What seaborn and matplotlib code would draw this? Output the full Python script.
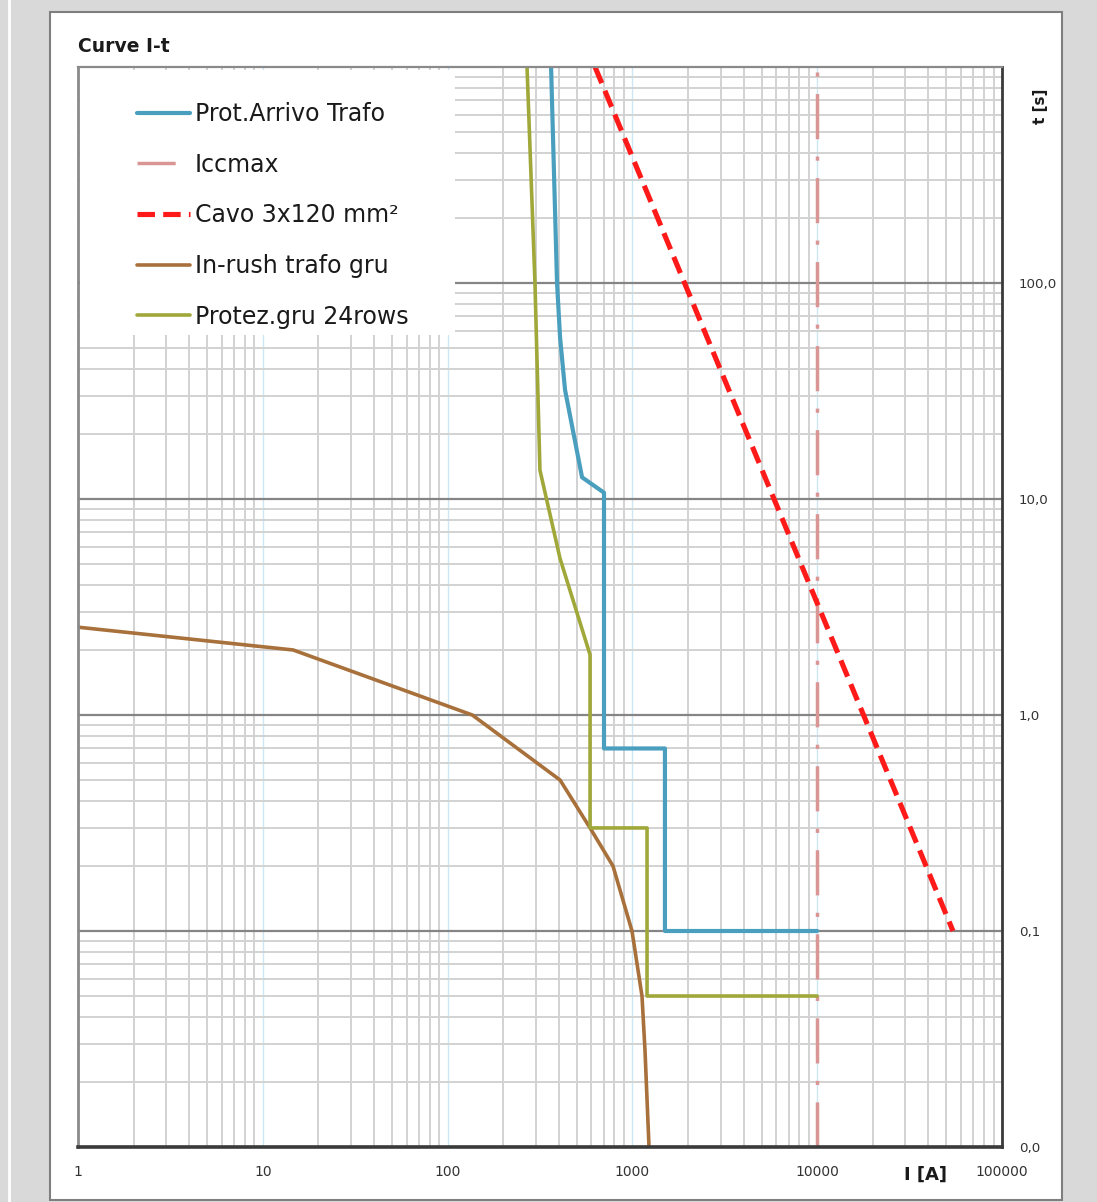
import numpy as np
import pandas as pd
import matplotlib
matplotlib.use("Agg")
import matplotlib.pyplot as plt
from matplotlib.patches import Rectangle
from matplotlib.lines import Line2D
from matplotlib.ticker import LogLocator, NullFormatter
import seaborn as sns

# ---------------- data ----------------
title = "Curve I-t"
x_label = "I [A]"
y_label = "t [s]"

prot_arrivo_I = [363, 391, 406, 432, 534, 702, 702, 1500, 1500, 10000]
prot_arrivo_t = [1000, 100, 56, 32, 12.6, 10.7, 0.70, 0.70, 0.1, 0.1]

iccmax_I = [10000, 10000]
iccmax_t = [0.01, 1000]

cavo_I = [628, 54300]
cavo_t = [1000, 0.1]

inrush_I = [1, 14.6, 136, 406, 590, 785, 995, 1127, 1170, 1230]
inrush_t = [2.55, 2.0, 1.0, 0.5, 0.30, 0.20, 0.1, 0.05, 0.028, 0.01]

protez_I = [269, 297, 316, 406, 590, 590, 1200, 1200, 10000]
protez_t = [1000, 100, 13.6, 5.3, 1.9, 0.30, 0.30, 0.05, 0.05]

x_ticks = [1, 10, 100, 1000, 10000, 100000]
x_tick_labels = ["1", "10", "100", "1000", "10000", "100000"]
y_ticks = [0.01, 0.1, 1, 10, 100]
y_tick_labels = ["0,0", "0,1", "1,0", "10,0", "100,0"]

series_names = ["Prot.Arrivo Trafo", "Iccmax", "Cavo 3x120 mm\u00b2",
                "In-rush trafo gru", "Protez.gru 24rows"]

# ---------------- style ----------------
sns.set_theme(style="white")
plt.rcParams["font.family"] = ["DejaVu Sans"]

W, H = 1097, 1202
fig = plt.figure(figsize=(W / 100, H / 100), dpi=100)
fig.patch.set_facecolor("#d9d9d9")

# white panel with shadowed border
fig.patches.append(Rectangle((50 / W, 1 - 1200 / H), (1062 - 50) / W, (1200 - 12) / H,
                             transform=fig.transFigure, facecolor="white",
                             edgecolor="#7f7f7f", linewidth=1.5, zorder=-5))
fig.lines.append(Line2D([8.5 / W, 8.5 / W], [0, 1], transform=fig.transFigure,
                        color="white", linewidth=2, zorder=-5))

L, R, T, B = 78, 1002, 67, 1147
ax = fig.add_axes([L / W, 1 - B / H, (R - L) / W, (B - T) / H])
ax.set_zorder(1)
ax.set_facecolor("white")
ax.set_xscale("log")
ax.set_yscale("log")
ax.set_xlim(1, 100000)
ax.set_ylim(0.01, 1000)

# grid
ax.xaxis.set_minor_locator(LogLocator(base=10, subs=np.arange(2, 10)))
ax.yaxis.set_minor_locator(LogLocator(base=10, subs=np.arange(2, 10)))
ax.xaxis.set_minor_formatter(NullFormatter())
ax.yaxis.set_minor_formatter(NullFormatter())
ax.grid(which="minor", axis="both", color="#d2d2d2", linewidth=1.4, zorder=0)
ax.grid(which="major", axis="y", color="#858585", linewidth=1.6, zorder=0)
ax.grid(which="major", axis="x", color="#cde6f6", linewidth=1.0, zorder=0)
ax.set_axisbelow(True)

# series
blue = "#4a9fbf"
rose = "#d99694"
red = "#ff1a1a"
brown = "#a8703a"
olive = "#a0a83a"

sns.lineplot(x=prot_arrivo_I, y=prot_arrivo_t, sort=False, estimator=None,
             color=blue, linewidth=3.0, ax=ax, label=series_names[0])
sns.lineplot(x=iccmax_I, y=iccmax_t, sort=False, estimator=None,
             color=rose, linewidth=2.5, ax=ax, label=series_names[1])
ax.lines[-1].set_dashes((13, 5, 1.2, 5))
sns.lineplot(x=cavo_I, y=cavo_t, sort=False, estimator=None,
             color=red, linewidth=3.7, ax=ax, label=series_names[2])
ax.lines[-1].set_dashes((3.4, 1.6))
sns.lineplot(x=inrush_I, y=inrush_t, sort=False, estimator=None,
             color=brown, linewidth=2.6, ax=ax, label=series_names[3])
sns.lineplot(x=protez_I, y=protez_t, sort=False, estimator=None,
             color=olive, linewidth=2.6, ax=ax, label=series_names[4])

# legend background (white box hiding grid)
ax.add_patch(Rectangle(((80 - L) / (R - L), (B - 335) / (B - T)),
                       (455 - 80) / (R - L), (335 - 70) / (B - T),
                       transform=ax.transAxes, facecolor="white",
                       edgecolor="none", zorder=2.5))
handles, labels = ax.get_legend_handles_labels()
leg = ax.legend(handles, labels, loc="upper left",
                bbox_to_anchor=((137 - L) / (R - L), (B - 102) / (B - T)),
                frameon=False, fontsize=17, handlelength=2.25,
                handletextpad=0.21, labelspacing=1.13, borderpad=0,
                borderaxespad=0)
leg.set_zorder(3)
for t in leg.get_texts():
    t.set_color("#1a1a1a")
leg.get_lines()[1].set_dashes((11, 6.5, 1.2, 6))

# ticks
ax.set_xticks(x_ticks)
ax.set_xticklabels(x_tick_labels)
ax.yaxis.tick_right()
ax.set_yticks(y_ticks)
ax.set_yticklabels(y_tick_labels)
ax.tick_params(axis="both", which="both", length=0)
ax.tick_params(axis="x", pad=13, labelsize=10, labelcolor="#333333")
ax.tick_params(axis="y", pad=12, labelsize=9.6, labelcolor="#333333")

ax.set_xlabel("")
ax.set_ylabel("")

# spines
for side, col, lw in [("left", "#8a8a8a", 2.0), ("top", "#8a8a8a", 1.6),
                      ("right", "#3a3a3a", 2.0), ("bottom", "#3a3a3a", 2.6)]:
    ax.spines[side].set_visible(True)
    ax.spines[side].set_color(col)
    ax.spines[side].set_linewidth(lw)

# texts
fig.text(78 / W, 1 - 46 / H, title, fontsize=13.5, fontweight="bold",
         ha="left", va="center", color="#1a1a1a")
fig.text(925 / W, 1 - 1175 / H, x_label, fontsize=13, fontweight="bold",
         ha="center", va="center", color="#1a1a1a")
fig.text(1041 / W, 1 - 106 / H, y_label, fontsize=11, fontweight="bold",
         ha="center", va="center", rotation=90, color="#1a1a1a")

fig.savefig("out.png", dpi=100, facecolor=fig.get_facecolor())
